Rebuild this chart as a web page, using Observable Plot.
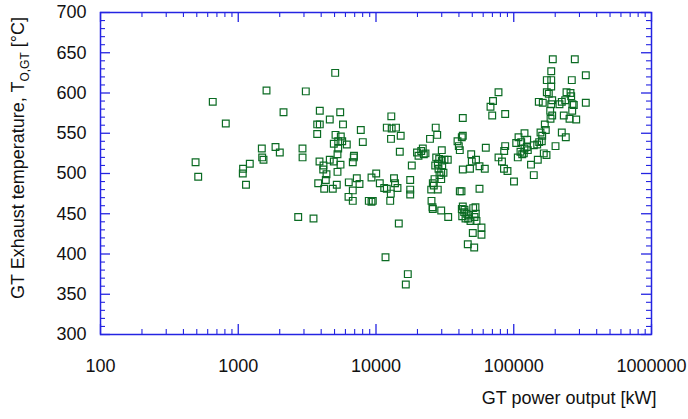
<!DOCTYPE html>
<html><head><meta charset="utf-8">
<script src="https://cdn.jsdelivr.net/npm/d3@7"></script>
<script src="https://cdn.jsdelivr.net/npm/@observablehq/plot@0.6"></script>
<style>body{margin:0;background:#fff} svg{font-family:"Liberation Sans",Arial,sans-serif}</style>
</head><body><div id="chart"></div>
<script>
// GT power output [kW]
const power = [
  490,512,653,812,1084,1079,1138,1213,1483,1492,1525,1604,1864,2003,2131,2927,2930,3093,2724,3518,
  3742,3805,3889,3742,3908,3908,4158,4138,4207,4372,4321,4618,4618,4939,4857,5055,5082,5193,5254,5254,5316,4939,5316,5497,5553,5685,5761,5525,
  6138,6346,6315,6784,6784,6921,6898,6784,7255,7589,7757,8022,8867,9275,9479,9275,10035,
  10656,11470,11980,12806,12680,13510,13737,14324,12916,11980,13002,13969,12850,15110,14886,18193,17712,17712,17712,14638,11722,17020,16458,
  19848,20352,21292,21869,22233,22872,24660,27130,27820,30040,
  27350,28760,30040,28090,30240,26910,31430,33200,28430,29740,30900,28910,29740,26590,25850,26280,25160,28090,
  25290,25720,25850,29740,33430,40590,41760,42670,42670,41970,39060,39920,40590,49100,49600,53210,42670,48120,
  42670,43680,42250,44630,47160,48530,46690,50770,51890,50430,46380,51630,43900,41970,45390,53030,53650,52760,
  56400,61640,56400,58320,58320,62680,67800,70700,77500,69760,86650,77500,82140,84930,90060,86650,85210,
  100400,104200,108300,113300,119700,125200,107000,111900,118300,115200,124400,126500,119700,133400,139800,149500,139800,148000,153000,159800,156400,160900,170900,168100,165200,172900,201000,223300,238700,
  183900,190200,184900,230800,254000,284100,265700,152000,162500,190200,187100,223300,214800,236300,267000,272900,333500,
  173800,179700,241500,258200,261200,187100,173800,187100,263900,187100,333500,192100,277500
];
// GT exhaust temperature [°C]
const temperature = [
  514,496,589,562,506,500,486,512,531,520,517,603,533,526,576,531,520,602,446,444,
  549,488,515,561,561,578,510,505,481,499,492,567,517,515,481,625,548,486,502,524,531,537,540,576,546,540,561,511,
  536,489,471,479,514,522,520,466,494,487,554,539,466,465,466,495,500,
  488,482,481,475,466,494,488,482,571,557,556,557,543,547,527,510,492,480,474,438,396,375,362,
  526,522,528,531,524,525,543,557,548,529,
  520,518,516,512,510,510,517,517,506,502,501,498,493,493,488,485,480,480,
  466,458,456,454,446,478,478,569,547,545,540,534,529,524,515,517,505,506,
  459,452,447,444,448,441,444,457,446,426,412,408,455,456,450,450,441,458,
  509,506,481,433,424,532,583,590,601,572,574,520,515,506,503,534,528,
  490,538,545,539,550,542,520,527,525,524,533,529,531,511,498,517,535,536,539,540,551,547,554,561,525,523,534,551,545,
  578,572,568,572,568,567,578,589,588,591,586,589,586,591,586,585,588,
  601,599,601,600,596,608,616,616,616,627,622,642,642
];
const xTicks = [100, 1000, 10000, 100000, 1000000];
const yTicks = [300, 350, 400, 450, 500, 550, 600, 650, 700];
const xTitle = "GT power output [kW]";
const yTitleMain = "GT Exhaust temperature, T";
const yTitleSub = "O,GT";
const yTitleUnit = " [°C]";

const data = power.map((p, i) => ({p, t: temperature[i]}));
const xMinor = [];
for (const d of [100, 1000, 10000, 100000]) for (let k = 2; k <= 9; k++) xMinor.push(k * d);
const yMinor = d3.range(300, 701, 10).filter(v => v % 50 !== 0);

const W = 688, H = 419, mL = 100, mR = 37, mT = 12, mB = 85;
const pw = W - mL - mR, ph = H - mT - mB;
const blue = "#2424e2";
const green = "#0b6b23";
const maj = 10, mnr = 5;

const chart = Plot.plot({
  width: W, height: H,
  marginLeft: mL, marginRight: mR, marginTop: mT, marginBottom: mB,
  style: {fontFamily: "'Liberation Sans', Arial, sans-serif", fontSize: "18px", color: "#111", background: "#fff"},
  x: {type: "log", domain: [100, 1000000]},
  y: {domain: [300, 700]},
  marks: [
    Plot.dot(data, {x: "p", y: "t", symbol: "square", r: 3.8, stroke: green, strokeWidth: 1.2, fill: "none"}),
    // inward ticks: bottom & top
    Plot.ruleX(xTicks, {x: d => d, stroke: blue, strokeWidth: 1.3, insetTop: ph - maj}),
    Plot.ruleX(xTicks, {x: d => d, stroke: blue, strokeWidth: 1.3, insetBottom: ph - maj}),
    Plot.ruleX(xMinor, {x: d => d, stroke: blue, strokeWidth: 1.1, insetTop: ph - mnr}),
    Plot.ruleX(xMinor, {x: d => d, stroke: blue, strokeWidth: 1.1, insetBottom: ph - mnr}),
    // inward ticks: left & right
    Plot.ruleY(yTicks, {y: d => d, stroke: blue, strokeWidth: 1.3, insetRight: pw - maj}),
    Plot.ruleY(yTicks, {y: d => d, stroke: blue, strokeWidth: 1.3, insetLeft: pw - maj}),
    Plot.ruleY(yMinor, {y: d => d, stroke: blue, strokeWidth: 1.1, insetRight: pw - mnr}),
    Plot.ruleY(yMinor, {y: d => d, stroke: blue, strokeWidth: 1.1, insetLeft: pw - mnr}),
    Plot.frame({stroke: blue, strokeWidth: 1.5}),
    Plot.axisX(xTicks, {tickSize: 0, tickPadding: 25, tickFormat: d3.format("d"), label: null, fill: "#111"}),
    Plot.axisY(yTicks, {tickSize: 0, tickPadding: 14, tickFormat: d3.format("d"), label: null, fill: "#111"}),
    Plot.text([xTitle], {frameAnchor: "bottom-right", dx: 5, dy: 69, textAnchor: "end", fontSize: 18, fill: "#111"})
  ]
});

const svg = d3.select(chart);
const t = svg.append("text")
  .attr("transform", "translate(24,158) rotate(-90)")
  .attr("text-anchor", "middle")
  .attr("font-size", 18)
  .attr("fill", "#111");
t.append("tspan").text(yTitleMain);
t.append("tspan").attr("font-size", 12).attr("dy", 5).text(yTitleSub);
t.append("tspan").attr("dy", -5).text(yTitleUnit);

document.getElementById("chart").appendChild(chart);
</script>
</body></html>
